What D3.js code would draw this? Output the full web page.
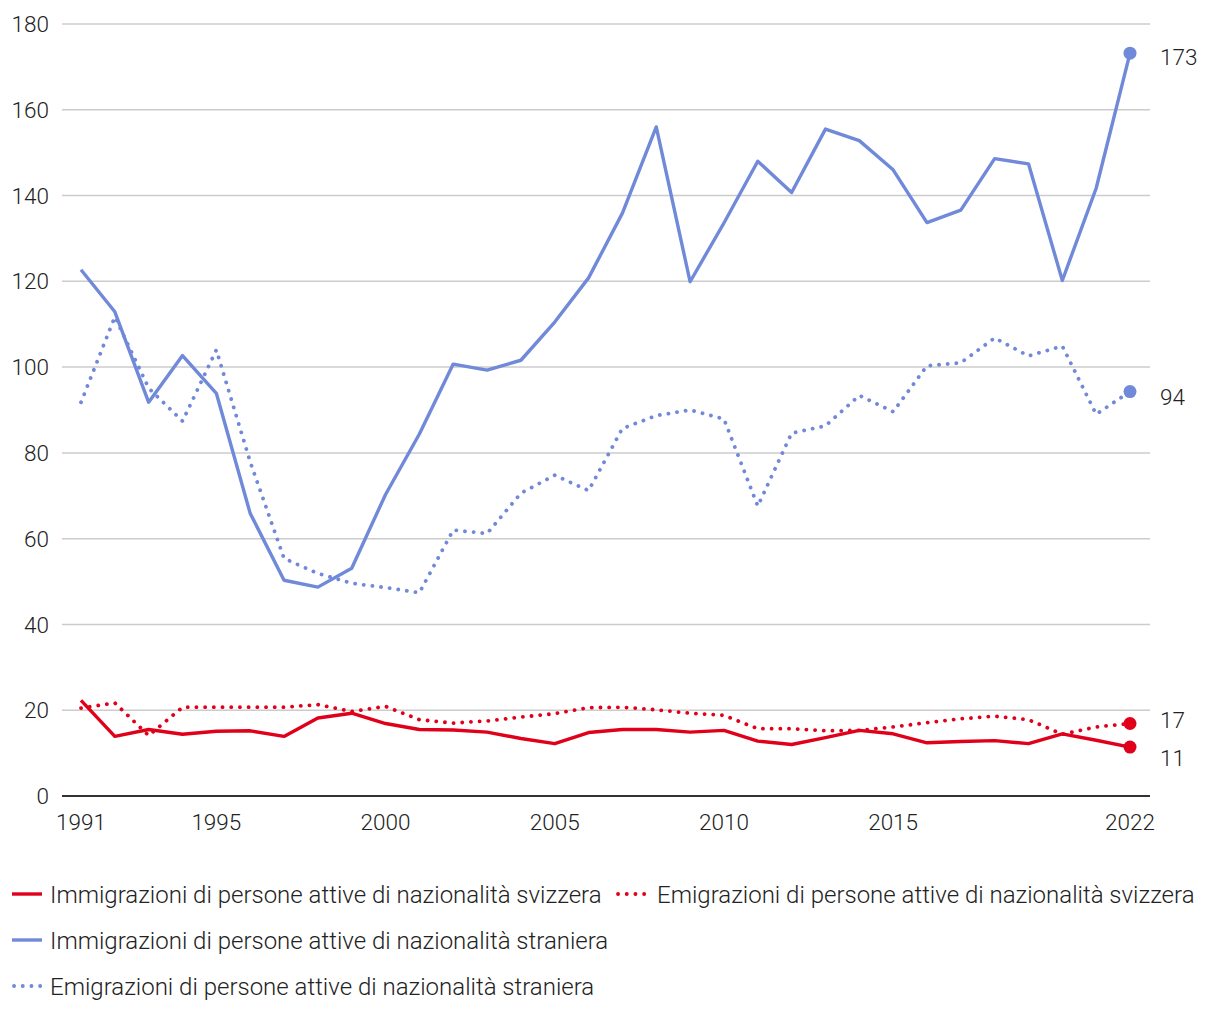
<!DOCTYPE html>
<html>
<head>
<meta charset="utf-8">
<script src="https://cdn.jsdelivr.net/npm/d3@7"></script>
<style>
  body { margin: 0; background: #fff; }
  svg text { font-family: Roboto, "Noto Sans", sans-serif; fill: #222; }
</style>
</head>
<body>
<svg id="chart" width="1220" height="1020"></svg>
<script>
var years = d3.range(1991, 2023);

var immSvizzera = [22.3, 13.9, 15.5, 14.4, 15.1, 15.2, 13.9, 18.2, 19.3, 16.9, 15.5, 15.4, 14.9, 13.4, 12.2, 14.8,
                   15.5, 15.5, 14.9, 15.3, 12.8, 12.0, 13.6, 15.3, 14.5, 12.4, 12.7, 12.9, 12.2, 14.5, 13.0, 11.4];
var emiSvizzera = [20.5, 21.7, 14.1, 20.7, 20.7, 20.7, 20.7, 21.3, 19.7, 20.9, 17.8, 17.0, 17.5, 18.4, 19.2, 20.6,
                   20.7, 20.1, 19.3, 18.8, 15.7, 15.7, 15.2, 15.3, 16.1, 17.1, 18.0, 18.6, 17.8, 14.4, 16.1, 16.9];
var immStraniera = [122.7, 112.9, 91.8, 102.7, 93.9, 65.9, 50.3, 48.7, 53.1, 70.3, 84.4, 100.7, 99.3, 101.6, 110.5, 120.8,
                    135.9, 156.0, 119.9, 133.6, 148.0, 140.7, 155.5, 152.8, 146.0, 133.7, 136.6, 148.6, 147.4, 120.2, 141.7, 173.2];
var emiStraniera = [91.8, 111.7, 95.1, 87.4, 104.0, 77.9, 55.4, 51.9, 49.6, 48.6, 47.4, 62.0, 61.2, 70.6, 74.8, 71.2,
                    85.7, 88.7, 90.0, 87.9, 67.6, 84.6, 86.3, 93.4, 89.6, 100.3, 101.0, 106.8, 102.6, 104.9, 89.0, 94.3];

var xTicks = [1991, 1995, 2000, 2005, 2010, 2015, 2022];
var yTicks = [0, 20, 40, 60, 80, 100, 120, 140, 160, 180];

var seriesNames = [
  "Immigrazioni di persone attive di nazionalità svizzera",
  "Emigrazioni di persone attive di nazionalità svizzera",
  "Immigrazioni di persone attive di nazionalità straniera",
  "Emigrazioni di persone attive di nazionalità straniera"
];
var endLabels = ["11", "17", "173", "94"];

var red = "#e1001a", blue = "#7089d9";

var series = [
  { name: seriesNames[0], values: immSvizzera, color: red, dotted: false, label: endLabels[0], dy: 11 },
  { name: seriesNames[1], values: emiSvizzera, color: red, dotted: true, label: endLabels[1], dy: -4 },
  { name: seriesNames[2], values: immStraniera, color: blue, dotted: false, label: endLabels[2], dy: 4 },
  { name: seriesNames[3], values: emiStraniera, color: blue, dotted: true, label: endLabels[3], dy: 5 }
];

var svg = d3.select("#chart");
var plotLeft = 62, plotRight = 1150, plotTop = 24, plotBottom = 796;

var x = d3.scaleLinear().domain([1991, 2022]).range([81, 1130]);
var y = d3.scaleLinear().domain([0, 180]).range([plotBottom, plotTop]);

// grid
svg.append("g").selectAll("line")
  .data(yTicks.filter(function(d) { return d > 0; }))
  .enter().append("line")
    .attr("x1", plotLeft).attr("x2", plotRight)
    .attr("y1", function(d) { return y(d); })
    .attr("y2", function(d) { return y(d); })
    .attr("stroke", "#cccccc").attr("stroke-width", 1.5);

// y labels
svg.append("g").selectAll("text")
  .data(yTicks)
  .enter().append("text")
    .attr("x", 49)
    .attr("y", function(d) { return y(d); })
    .attr("dy", "0.36em")
    .attr("text-anchor", "end")
    .attr("font-size", 22.5)
    .attr("font-weight", 300)
    .text(function(d) { return d; });

// baseline
svg.append("line")
  .attr("x1", plotLeft).attr("x2", plotRight)
  .attr("y1", plotBottom).attr("y2", plotBottom)
  .attr("stroke", "#333").attr("stroke-width", 2);

// x labels
svg.append("g").selectAll("text")
  .data(xTicks)
  .enter().append("text")
    .attr("x", function(d) { return x(d); })
    .attr("y", 830)
    .attr("text-anchor", "middle")
    .attr("font-size", 22.5)
    .attr("font-weight", 300)
    .text(function(d) { return d; });

var line = d3.line()
  .x(function(d, i) { return x(years[i]); })
  .y(function(d) { return y(d); });

var drawOrder = [2, 3, 1, 0];
drawOrder.forEach(function(k) {
  var s = series[k];
  var path = svg.append("path")
    .datum(s.values)
    .attr("d", line)
    .attr("fill", "none")
    .attr("stroke", s.color)
    .attr("stroke-linejoin", "round");
  if (s.dotted) {
    path.attr("stroke-width", 3.8)
      .attr("stroke-linecap", "round")
      .attr("stroke-dasharray", "0.1 8.6");
  } else {
    path.attr("stroke-width", 3.4);
  }
  var last = s.values[s.values.length - 1];
  svg.append("circle")
    .attr("cx", x(2022)).attr("cy", y(last))
    .attr("r", 6.5).attr("fill", s.color);
  svg.append("text")
    .attr("x", 1160)
    .attr("y", y(last) + s.dy)
    .attr("dy", "0.36em")
    .attr("font-size", 22.5)
    .attr("font-weight", 300)
    .text(s.label);
});

// legend
var legendPos = [[12, 894], [616, 894], [12, 940], [12, 986]];
series.forEach(function(s, i) {
  var g = svg.append("g").attr("transform", "translate(" + legendPos[i][0] + "," + legendPos[i][1] + ")");
  var sw = g.append("line")
    .attr("x1", s.dotted ? 2 : 0).attr("x2", 30)
    .attr("y1", 0).attr("y2", 0)
    .attr("stroke", s.color);
  if (s.dotted) {
    sw.attr("stroke-width", 3.8).attr("stroke-linecap", "round").attr("stroke-dasharray", "0.1 8.6");
  } else {
    sw.attr("stroke-width", 3.4);
  }
  g.append("text")
    .attr("x", s.dotted && i === 1 ? 41 : 38).attr("y", 0)
    .attr("dy", "0.36em")
    .attr("font-size", 24)
    .attr("font-weight", 300)
    .text(s.name);
});
</script>
</body>
</html>
